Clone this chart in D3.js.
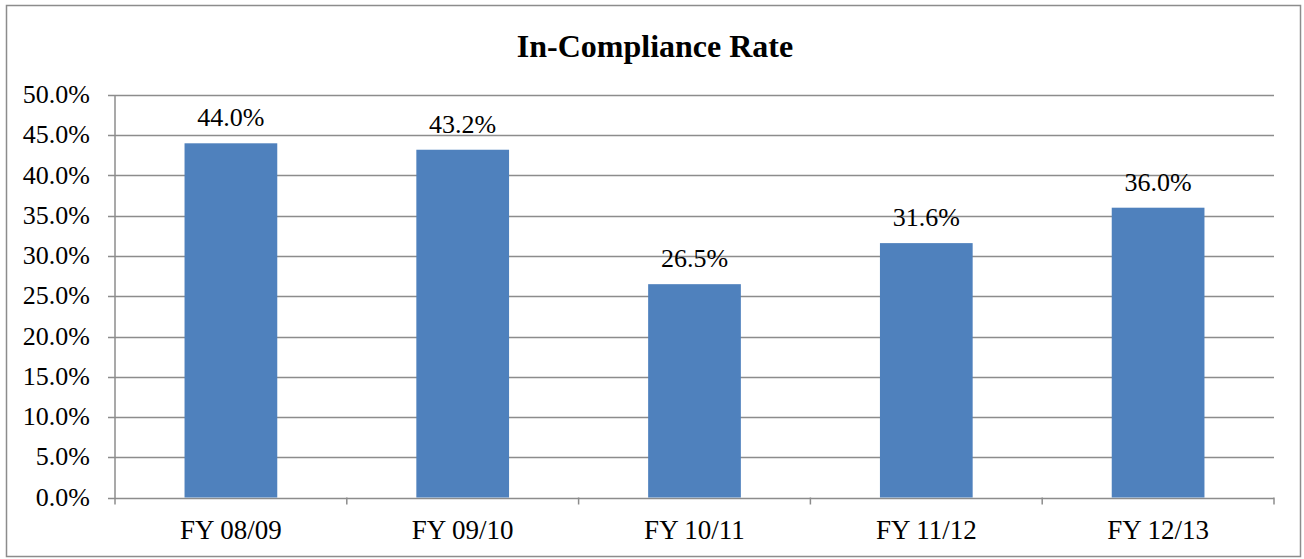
<!DOCTYPE html>
<html>
<head>
<meta charset="utf-8">
<script src="https://cdn.jsdelivr.net/npm/d3@7"></script>
<style>
body { margin:0; background:#fff; }
svg { display:block; font-family:"Liberation Serif","Times New Roman",serif; }
</style>
</head>
<body>
<svg></svg>
<script>
var categories = ["FY 08/09","FY 09/10","FY 10/11","FY 11/12","FY 12/13"]
var rates = [44.0, 43.2, 26.5, 31.6, 36.0]
var yTicks = [0,5,10,15,20,25,30,35,40,45,50]
var chartTitle = "In-Compliance Rate"

var screen = {width:1304,height:559}
var margins = {top:95,right:30,bottom:61,left:115}

var svg = d3.select("svg")
    .attr("width",screen.width)
    .attr("height",screen.height)

// outer frame
svg.append("rect")
    .attr("x",6.5)
    .attr("y",5.5)
    .attr("width",1294)
    .attr("height",551)
    .attr("fill","none")
    .attr("stroke","#8c8c8c")
    .attr("stroke-width",1.5)

svg.append("text")
    .attr("x",655)
    .attr("y",57)
    .attr("text-anchor","middle")
    .attr("font-size",32)
    .attr("font-weight","bold")
    .text(chartTitle)

var width = screen.width - margins.left - margins.right
var height = screen.height - margins.top - margins.bottom - 0.5

var graph = svg.append("g")
    .attr("id","graph")
    .attr("transform","translate("+margins.left+","+margins.top+")")

var xScale = d3.scaleBand().domain(categories).range([0,width]).paddingInner(0.6).paddingOuter(0.3)
var yScale = d3.scaleLinear().domain([0,50]).range([height,0])

// gridlines
graph.append("g")
    .selectAll("line")
    .data(yTicks)
    .enter()
    .append("line")
    .attr("x1",-7)
    .attr("x2",width)
    .attr("y1",function(d){ return Math.round(yScale(d))+0.5 })
    .attr("y2",function(d){ return Math.round(yScale(d))+0.5 })
    .attr("stroke","#8c8c8c")
    .attr("stroke-width",1.5)

// y axis line
graph.append("line")
    .attr("x1",0).attr("x2",0)
    .attr("y1",yScale(50)).attr("y2",height+7)
    .attr("stroke","#8c8c8c")
    .attr("stroke-width",1.5)

// x category boundary ticks
var step = width/categories.length
graph.append("g")
    .selectAll("line")
    .data(d3.range(1,categories.length+1))
    .enter()
    .append("line")
    .attr("x1",function(i){ return i*step })
    .attr("x2",function(i){ return i*step })
    .attr("y1",height)
    .attr("y2",height+7)
    .attr("stroke","#8c8c8c")
    .attr("stroke-width",1.5)

graph.append("g")
    .selectAll("text")
    .data(yTicks)
    .enter()
    .append("text")
    .attr("x",-25)
    .attr("y",function(d){ return yScale(d)+8 })
    .attr("text-anchor","end")
    .attr("font-size",26)
    .text(function(d){ return d.toFixed(1)+"%" })

graph.selectAll("rect.bar")
    .data(rates)
    .enter()
    .append("rect")
    .attr("class","bar")
    .attr("x",function(d,i){ return xScale(categories[i]) })
    .attr("width",xScale.bandwidth())
    .attr("y",function(d){ return yScale(d) })
    .attr("height",function(d){ return height-yScale(d) })
    .attr("fill","#4f81bd")

graph.selectAll("text.val")
    .data(rates)
    .enter()
    .append("text")
    .attr("class","val")
    .attr("x",function(d,i){ return xScale(categories[i])+xScale.bandwidth()/2 })
    .attr("y",function(d){ return yScale(d)-17 })
    .attr("text-anchor","middle")
    .attr("font-size",26)
    .text(function(d){ return d.toFixed(1)+"%" })

graph.selectAll("text.cat")
    .data(categories)
    .enter()
    .append("text")
    .attr("class","cat")
    .attr("x",function(d){ return xScale(d)+xScale.bandwidth()/2 })
    .attr("y",height+41)
    .attr("text-anchor","middle")
    .attr("font-size",27)
    .text(function(d){ return d })
</script>
</body>
</html>
